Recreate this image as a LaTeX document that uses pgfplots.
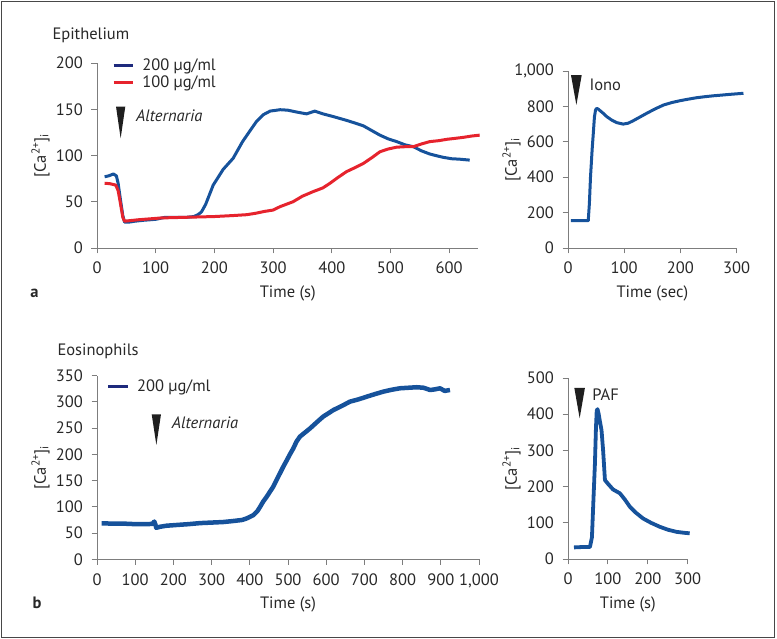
\documentclass[border=0pt]{standalone}
\usepackage{fontspec}
\setmainfont{PT Sans}
\usepackage{pgfplots}
\pgfplotsset{compat=1.18}

\definecolor{cblue}{RGB}{22,82,155}
\definecolor{cred}{RGB}{230,35,45}
\definecolor{cnavy}{RGB}{30,42,125}
\definecolor{axgray}{RGB}{125,125,125}
\definecolor{txt}{RGB}{40,40,40}
\newcommand\fs{\fontsize{16.5}{19}\selectfont}
\tikzset{tri/.style={fill=black!88}}

\pgfplotsset{
  myax/.style={
    scale only axis,
    anchor=south west,
    axis x line*=bottom, axis y line*=left,
    axis line style={axgray, line width=0.9pt},
    tick style={axgray, line width=0.9pt},
    tick align=outside,
    major tick length=5.5pt,
    xmin=0, ymin=0,
    clip=false,
    /pgf/number format/assume math mode=true,
    /pgf/number format/1000 sep={,},
    tick label style={font=\fs, text=txt},
    xticklabel style={yshift=-5pt},
    yticklabel style={xshift=-5pt},
    label style={font=\fs, text=txt},
    xlabel style={at={(axis description cs:0.5,0)}, anchor=center, yshift=-45pt},
    ylabel style={at={(axis description cs:0,0.5)}, anchor=center, yshift=56.5pt},
    ylabel={[Ca\textsuperscript{2+}]\textsubscript{i}},
    legend style={draw=none, fill=none, inner sep=0pt, outer sep=0pt, font=\fs, text=txt,
      row sep=4pt, column sep=8pt, nodes={inner sep=0pt}},
    legend cell align=left,
  },
}

\begin{document}
\begin{tikzpicture}
\useasboundingbox (0pt,0pt) rectangle (777pt,639pt);
\draw[black!72, line width=1.5pt] (1.5pt,1.5pt) rectangle (774.5pt,637.5pt);

\node[anchor=base west, inner sep=0pt, font=\fs, text=txt] at (52.3pt,599.7pt) {Epithelium};
\node[anchor=center, inner sep=0pt, font=\fs\bfseries, text=txt] at (34.5pt,345.5pt) {a};
\node[anchor=base west, inner sep=0pt, font=\fs, text=txt] at (57.3pt,283pt) {Eosinophils};
\node[anchor=center, inner sep=0pt, font=\fs\bfseries, text=txt] at (37pt,36pt) {b};

% ---------------- Panel a, left ----------------
\begin{axis}[myax, at={(97pt,391pt)}, width=381.5pt, height=185pt,
  xmax=650, ymax=200,
  xtick={0,100,...,600}, ytick={0,50,...,200},
  xlabel={Time (s)},
  legend style={at={(axis cs:25.6,188.3)}, anchor=west},
]
\addplot[cblue, line width=3pt, line join=round,
  legend image code/.code={\draw[cnavy, line width=3pt] (0pt,0pt) -- (19.3pt,0pt);}]
coordinates {
(13,77) (20,78) (28,80) (33,78) (36,70) (40,52) (44,35) (47,28) (55,28) (65,29)
(80,30) (100,31) (115,33) (130,33) (150,33) (165,34) (172,36) (178,39) (185,47)
(198,68) (215,85) (232,97) (248,115) (261,127) (272,137) (283,144) (295,148)
(312,149.5) (325,149) (340,147) (357,145) (371,148) (385,145) (403,142) (425,138)
(440,135) (454,132) (468,127) (482,122) (496,118) (510.6,115) (525,111.5)
(539,109.5) (553,105) (567,101.6) (580,99.5) (590,98) (604,96.5) (618,96) (635,95)
};
\addlegendentry{200 µg/ml}
\addplot[cred, line width=3pt, line join=round,
  legend image code/.code={\draw[cred, line width=3pt] (0pt,0pt) -- (19.3pt,0pt);}]
coordinates {
(13,70) (22,69.5) (32,68) (36,62) (40,48) (44,33) (47,29) (55,29.5) (70,30.5)
(90,31.5) (110,32.5) (140,33) (170,33.5) (200,34) (230,35) (255,36) (270,37.5)
(285,39.5) (300,41) (312,44.7) (334,50) (350,56) (368.5,61) (385,65) (397,70)
(410,76) (425,82.5) (440,87) (454,91.5) (468,97.5) (482,104) (496,107)
(510.6,109) (525,109.5) (539,109.5) (553,112.5) (567,115) (582,116) (596,117.5)
(610,118.5) (624,119.6) (638,121) (652,122)
};
\addlegendentry{100 µg/ml}
\fill[tri] (axis cs:32.4,152.8) -- (axis cs:48.2,152.8) -- (axis cs:40.3,118.6) -- cycle;
\node[anchor=base west, inner sep=0pt, font=\fs\itshape, text=txt] at (axis cs:66.4,136.5) {Alternaria};
\end{axis}

% ---------------- Panel a, right ----------------
\begin{axis}[myax, at={(568pt,391pt)}, width=168.7pt, height=177pt,
  xmax=300, ymax=1000,
  xtick={0,100,200,300}, ytick={0,200,...,1000},
  xlabel={Time (sec)},
]
\addplot[cblue, line width=3pt, line join=round] coordinates {
(5,154) (20,154) (36,154) (38,250) (40,400) (43,560) (45,648) (47,740) (49,780)
(51,789) (54,784) (57,776) (63,760) (69,742) (78,722) (87,708) (98,700) (107,705)
(116,719) (128,740) (140,761) (155,786) (170,808) (185,822) (199,832) (214,841)
(229,849) (244,855) (259,860) (274,864) (288,868) (300,871) (312,874)
};
\fill[tri] (axis cs:5.3,977) -- (axis cs:24.4,977) -- (axis cs:14.9,808) -- cycle;
\node[anchor=base west, inner sep=0pt, font=\fs, text=txt] at (axis cs:37.9,887) {Iono};
\end{axis}

% ---------------- Panel b, left ----------------
\begin{axis}[myax, at={(97pt,79.7pt)}, width=382pt, height=183.6pt,
  xmax=1000, ymax=350,
  xtick={0,100,...,1000}, ytick={0,50,...,350},
  xlabel={Time (s)},
  legend style={at={(axis cs:25.6,330)}, anchor=west},
]
\addplot[cblue, line width=4.5pt, line join=round,
  legend image code/.code={\draw[cnavy, line width=3pt] (0pt,0pt) -- (19.3pt,0pt);}]
coordinates {
(12,68.6) (40,68) (70,68) (100,67) (130,67) (145,67.5) (150,72) (153,66) (155,60)
(165,62) (182,64) (210,65.5) (240,67) (270,69) (300,70) (330,71) (357,73) (380,75)
(392,78) (409,84) (420,92) (427,100) (435,110) (444,119) (452,128) (461,138)
(470,151) (479,164) (488,177) (497,189) (505,200) (514,211.6) (522,224) (531,233.7)
(545,242) (558,249.7) (575,261) (592,272) (605,278) (619,284.6) (640,292)
(662,300.5) (685,305) (706,310) (728,315) (749,319.5) (770,323) (793,326)
(815,327) (837,328) (855,327) (872,322.7) (885,324) (898,326) (910,321) (924,322.7)
};
\addlegendentry{200 µg/ml}
\fill[tri] (axis cs:143.2,276.4) -- (axis cs:167.5,276.4) -- (axis cs:155.4,217.9) -- cycle;
\node[anchor=base west, inner sep=0pt, font=\fs\itshape, text=txt] at (axis cs:195.5,248.4) {Alternaria};
\end{axis}

% ---------------- Panel b, right ----------------
\begin{axis}[myax, at={(568pt,80pt)}, width=119.7pt, height=181pt,
  xmax=300, ymax=500,
  xtick={0,100,200,300}, ytick={0,100,...,500},
  xlabel={Time (s)},
]
\addplot[cblue, line width=3.8pt, line join=round] coordinates {
(15,32) (35,33) (55,33) (60,60) (64,170) (67.5,264) (70,360) (72,410) (74,414)
(77,400) (80,380) (84,356) (88,300) (92.6,218) (100,208) (113,192) (130,181.5)
(142,165) (155,144.5) (170,128) (188,112) (208,100) (230,89) (250,81) (272,75)
(290,72.5) (305,71)
};
\fill[tri] (axis cs:15.8,473) -- (axis cs:42.5,473) -- (axis cs:29.2,388.7) -- cycle;
\node[anchor=base west, inner sep=0pt, font=\fs, text=txt] at (axis cs:60.8,437) {PAF};
\end{axis}
\end{tikzpicture}
\end{document}
